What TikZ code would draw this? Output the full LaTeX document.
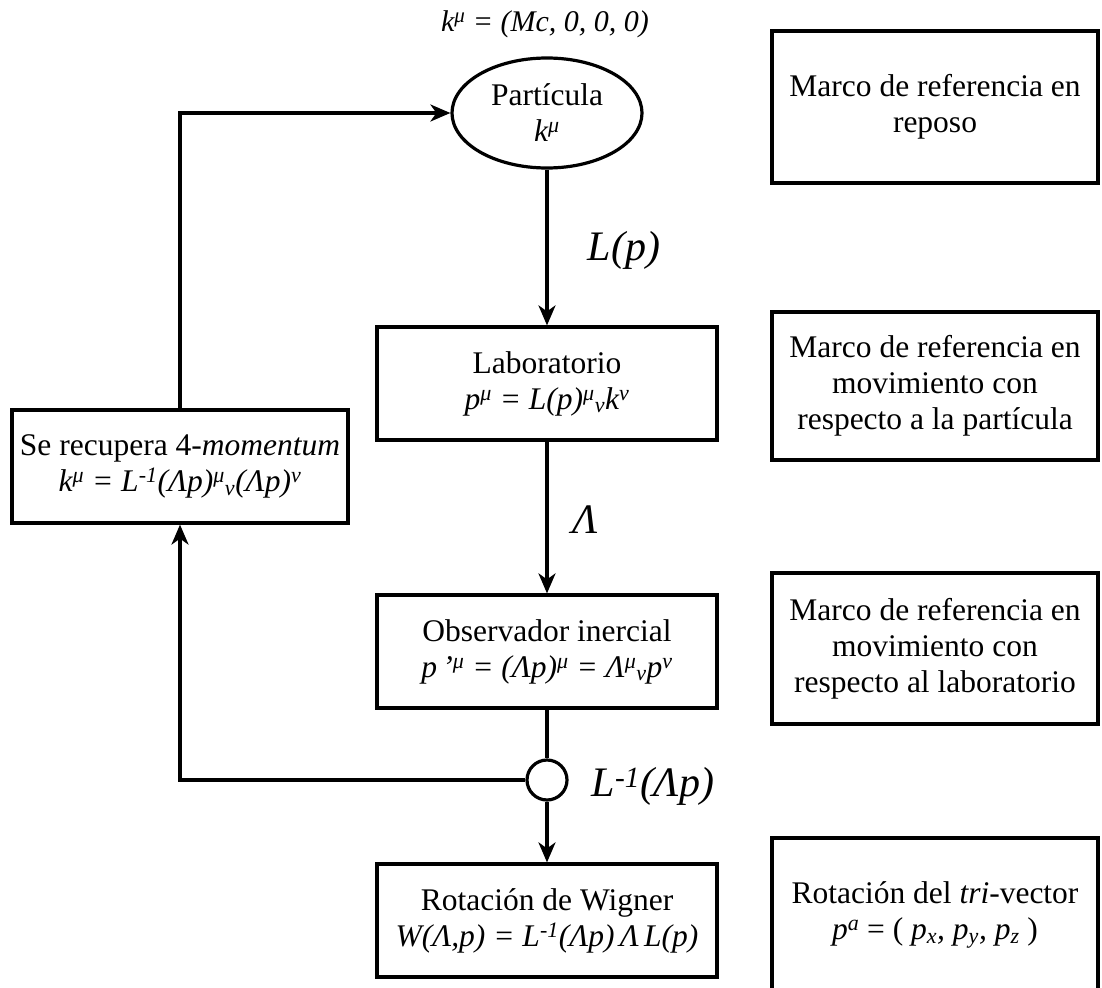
\documentclass[tikz,border=0pt]{standalone}
\usepackage{fontspec}
\setmainfont{Liberation Serif}
\usetikzlibrary{shapes.geometric,arrows.meta}
\newcommand\myup[1]{\textsuperscript{#1}}
\newcommand\mydn[1]{\textsubscript{#1}}
\begin{document}
\begin{tikzpicture}[x=1pt,y=-1pt,
  every node/.style={font=\fontsize{31.5}{36}\selectfont, inner sep=0pt, align=center},
  box/.style={draw, line width=3.2pt, rectangle},
  mainbox/.style={box, minimum width=340pt, minimum height=113pt},
  sidebox/.style={box, minimum width=326pt},
  link/.style={line width=3.2pt},
  arr/.style={link, -{Stealth[length=20pt,width=17pt,inset=6pt]}},
  lbl/.style={font=\fontsize{42}{46}\selectfont\itshape}]
\useasboundingbox (0,0) rectangle (1102,987);
\fill[white] (0,0) rectangle (1102,987);

\node[font=\fontsize{30}{34}\selectfont\itshape] (klab) at (545,24) {k\myup{μ} = (Mc, 0, 0, 0)};
\node[draw, ellipse, line width=3.2pt, minimum width=190pt, minimum height=110pt] (part) at (547,113) {Partícula\\\textit{k\myup{μ}}};
\node[mainbox] (lab) at (547,383.5) {Laboratorio\\\textit{p\myup{μ} = L(p)\myup{μ}\mydn{ν}k\myup{ν}}};
\node[mainbox] (obs) at (547,651.5) {Observador inercial\\\textit{p\,'\myup{μ} = (Λp)\myup{μ} = Λ\myup{μ}\mydn{ν}p\myup{ν}}};
\node[mainbox] (rot) at (547,920.5) {Rotación de Wigner\\\textit{W(Λ,p) = L\myup{-1}(Λp)\,Λ\,L(p)}};
\node[box, minimum width=336pt, minimum height=113pt] (rec) at (180,466.5) {Se recupera 4-\textit{momentum}\\\textit{k\myup{μ} = L\myup{-1}(Λp)\myup{μ}\mydn{ν}(Λp)\myup{ν}}};
\node[draw, circle, line width=3.2pt, minimum size=40pt] (cir) at (547,780) {};

\node[sidebox, minimum height=152pt] (r1) at (935,107) {Marco de referencia en\\reposo};
\node[sidebox, minimum height=148pt] (r2) at (935,386) {Marco de referencia en\\movimiento con\\respecto a la partícula};
\node[sidebox, minimum height=151pt] (r3) at (935,648.5) {Marco de referencia en\\movimiento con\\respecto al laboratorio};
\node[sidebox, minimum height=154pt] (r4) at (935,915) {Rotación del \textit{tri}-vector\\\textit{p\myup{a}} = ( \textit{p\mydn{x}, p\mydn{y}, p\mydn{z}} )};

\draw[arr] (part.south) -- (lab.north);
\draw[arr] (lab.south) -- (obs.north);
\draw[link] (obs.south) -- (cir.north);
\draw[arr] (cir.south) -- (rot.north);
\draw[arr] (cir.west) -| (rec.south);
\draw[arr] (rec.north) |- (part.west);

\node[lbl] (lp) at (624,250) {L(p)};
\node[lbl] (lam) at (585,520) {Λ};
\node[lbl] (linv) at (653,786) {L\myup{-1}(Λp)};
\end{tikzpicture}
\end{document}
